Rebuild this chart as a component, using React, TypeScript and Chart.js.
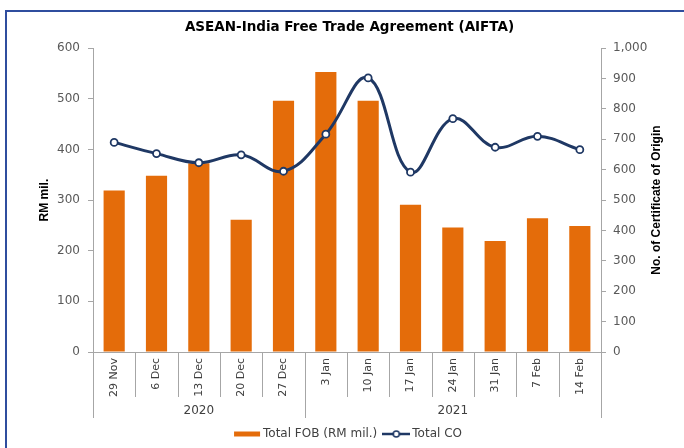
import React, { useEffect, useRef } from 'react';
import { Chart, registerables } from 'chart.js';

Chart.register(...registerables);

const categories = ['29 Nov', '6 Dec', '13 Dec', '20 Dec', '27 Dec', '3 Jan', '10 Jan', '17 Jan', '24 Jan', '31 Jan', '7 Feb', '14 Feb'];
const years = ['2020', '2021'];
const yearSpans = [5, 7];
const totalFOB = [319, 348, 373, 261, 496, 553, 496, 291, 246, 219, 264, 249];
const totalCO = [690, 653, 623, 649, 595, 717, 902, 592, 768, 674, 710, 666];
const leftAxisMax = 600;
const rightAxisMax = 1000;
const axisStep = 100;

const titleText = 'ASEAN-India Free Trade Agreement (AIFTA)';
const leftTitle = 'RM mil.';
const rightTitle = 'No. of Certificate of Origin';
const fobLabel = 'Total FOB (RM mil.)';
const coLabel = 'Total CO';

const ORANGE = '#E46C0A';
const NAVY = '#1F3864';
const AXIS = '#A6A6A6';
const TICK = '#595959';
const FONT = "'DejaVu Sans', sans-serif";
const NARROW = "'Liberation Sans Narrow', 'Liberation Sans', sans-serif";

Chart.defaults.font.family = FONT;

function makeRectIcon() {
  const c = document.createElement('canvas');
  c.width = 28;
  c.height = 7;
  const g = c.getContext('2d')!;
  g.fillStyle = ORANGE;
  g.fillRect(1, 1, 26, 5);
  return c;
}

function makeLineIcon() {
  const c = document.createElement('canvas');
  c.width = 28;
  c.height = 10;
  const g = c.getContext('2d')!;
  g.strokeStyle = NAVY;
  g.lineWidth = 2.5;
  g.beginPath();
  g.moveTo(0, 5);
  g.lineTo(28, 5);
  g.stroke();
  g.beginPath();
  g.arc(14, 5, 3, 0, Math.PI * 2);
  g.fillStyle = '#ffffff';
  g.fill();
  g.lineWidth = 1.6;
  g.stroke();
  return c;
}

const decorPlugin = {
  id: 'decor',
  beforeDraw(chart: any) {
    const ctx = chart.ctx;
    ctx.save();
    ctx.strokeStyle = '#2F4D9E';
    ctx.lineWidth = 2;
    ctx.strokeRect(6, 11, 900, 900);
    ctx.restore();
  },
  afterDraw(chart: any) {
    const ctx = chart.ctx;
    const area = chart.chartArea;
    const x = chart.scales.x;
    const half = (x.getPixelForValue(1) - x.getPixelForValue(0)) / 2;
    const boundary = (i: number) => x.getPixelForValue(i) - half;
    ctx.save();
    ctx.strokeStyle = AXIS;
    ctx.lineWidth = 1;
    // category separators
    for (let i = 0; i <= categories.length; i++) {
      const px = Math.round(boundary(i)) + 0.5;
      ctx.beginPath();
      ctx.moveTo(px, area.bottom);
      ctx.lineTo(px, area.bottom + 45);
      ctx.stroke();
    }
    // year separators and labels
    let start = 0;
    ctx.fillStyle = '#404040';
    ctx.font = `12px ${FONT}`;
    ctx.textAlign = 'center';
    ctx.textBaseline = 'middle';
    const edges = [0];
    yearSpans.forEach((s) => edges.push(edges[edges.length - 1] + s));
    edges.forEach((e) => {
      const px = Math.round(boundary(e)) + 0.5;
      ctx.beginPath();
      ctx.moveTo(px, area.bottom);
      ctx.lineTo(px, area.bottom + 66);
      ctx.stroke();
    });
    years.forEach((y, i) => {
      const a = boundary(start);
      const b = boundary(start + yearSpans[i]);
      ctx.fillText(y, (a + b) / 2, area.bottom + 59);
      start += yearSpans[i];
    });
    // axis titles
    const cy = (area.top + area.bottom) / 2;
    ctx.fillStyle = '#000000';
    ctx.font = `bold 12px ${NARROW}`;
    ctx.save();
    ctx.translate(area.left - 48, cy);
    ctx.rotate(-Math.PI / 2);
    ctx.fillText(leftTitle, 0, 0);
    ctx.restore();
    ctx.save();
    ctx.translate(area.right + 56, cy);
    ctx.rotate(-Math.PI / 2);
    ctx.fillText(rightTitle, 0, 0);
    ctx.restore();
    ctx.restore();
  },
};

export default function App() {
  const ref = useRef<HTMLCanvasElement>(null);
  useEffect(() => {
    const rectIcon = makeRectIcon();
    const lineIcon = makeLineIcon();
    const chart = new Chart(ref.current!, {
      type: 'bar',
      data: {
        labels: categories,
        datasets: [
          {
            type: 'bar',
            label: fobLabel,
            data: totalFOB,
            backgroundColor: ORANGE,
            barPercentage: 0.5,
            categoryPercentage: 1,
            yAxisID: 'y',
            order: 1,
          },
          {
            type: 'line',
            label: coLabel,
            data: totalCO,
            borderColor: NAVY,
            borderWidth: 3,
            tension: 0.4,
            pointRadius: 3.5,
            pointBackgroundColor: '#ffffff',
            pointBorderColor: NAVY,
            pointBorderWidth: 1.8,
            yAxisID: 'y1',
            order: 0,
          } as any,
        ],
      },
      options: {
        responsive: false,
        animation: false,
        layout: { padding: { left: 15, right: 0, top: 0, bottom: -2 } },
        plugins: {
          title: {
            display: true,
            text: titleText,
            color: '#000000',
            font: { family: FONT, size: 13.5, weight: 'bold' },
            padding: { top: 19, bottom: 13 },
          },
          legend: {
            position: 'bottom',
            labels: {
              usePointStyle: true,
              pointStyleWidth: 20,
              padding: 9,
              color: '#404040',
              font: { family: FONT, size: 12 },
              sort: (a: any, b: any) => a.datasetIndex - b.datasetIndex,
              generateLabels: (ch: any) => {
                const items = Chart.defaults.plugins.legend.labels.generateLabels(ch);
                return items.map((it: any) => ({ ...it, pointStyle: it.datasetIndex === 0 ? rectIcon : lineIcon }));
              },
            },
          },
          tooltip: { enabled: false },
        },
        scales: {
          x: {
            grid: { display: false, drawTicks: false },
            border: { display: true, color: AXIS },
            ticks: {
              autoSkip: false,
              minRotation: 90,
              maxRotation: 90,
              padding: 6,
              color: '#404040',
              font: { family: FONT, size: 11 },
            },
            afterFit: (s: any) => {
              s.height = 67;
            },
          },
          y: {
            position: 'left',
            min: 0,
            max: leftAxisMax,
            grid: { drawOnChartArea: false, drawTicks: true, tickLength: 5, color: AXIS },
            border: { display: true, color: AXIS },
            ticks: { stepSize: axisStep, padding: 8, color: TICK, font: { family: FONT, size: 12 } },
            afterFit: (s: any) => {
              s.width = 78;
            },
          },
          y1: {
            position: 'right',
            min: 0,
            max: rightAxisMax,
            grid: { drawOnChartArea: false, drawTicks: true, tickLength: 5, color: AXIS },
            border: { display: true, color: AXIS },
            ticks: {
              stepSize: axisStep,
              padding: 7,
              color: TICK,
              font: { family: FONT, size: 12 },
              callback: (v: any) => Number(v).toLocaleString('en-US'),
            },
            afterFit: (s: any) => {
              s.width = 83;
            },
          },
        },
      } as any,
      plugins: [decorPlugin],
    });
    return () => chart.destroy();
  }, []);
  return (
    <div style={{ position: 'fixed', left: 0, top: 0, width: 684, height: 448, background: '#ffffff' }}>
      <canvas ref={ref} width={684} height={448} />
    </div>
  );
}
